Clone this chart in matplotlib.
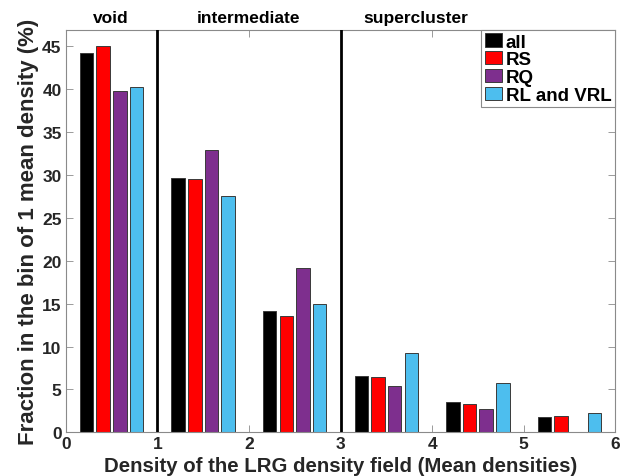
import numpy as np
import matplotlib
matplotlib.use('Agg')
import matplotlib.pyplot as plt
import matplotlib.transforms as mtransforms

plt.rcParams['font.family'] = ['Liberation Sans', 'DejaVu Sans']
plt.rcParams['font.weight'] = 'bold'

# Datos (fraccion en %)
bin_centers = [0.5, 1.5, 2.5, 3.5, 4.5, 5.5]
series_names = ['all', 'RS', 'RQ', 'RL and VRL']
frac_all = [44.2, 29.7, 14.1, 6.6, 3.5, 1.75]
frac_rs = [45.05, 29.5, 13.6, 6.5, 3.35, 1.85]
frac_rq = [39.75, 32.9, 19.1, 5.45, 2.7, 0.0]
frac_rl = [40.2, 27.6, 14.9, 9.2, 5.7, 2.25]
colors = ['#000000', '#FF0000', '#7E2F8E', '#4DBEEE']
region_names = ['void', 'intermediate', 'supercluster']
region_x = [0.49, 2.0, 3.82]
boundaries = [1, 3]

fig = plt.figure(figsize=(6.3, 4.77), dpi=100)
ax = fig.add_axes([0.1043, 0.0916, 0.8724, 0.844])

series = [frac_all, frac_rs, frac_rq, frac_rl]
offsets = [-0.273, -0.091, 0.091, 0.273]
for vals, off, col, name in zip(series, offsets, colors, series_names):
    ax.bar(np.array(bin_centers) + off, vals, width=0.148, color=col,
           edgecolor='#3a3a3a', linewidth=0.7, label=name, zorder=2)

for b in boundaries:
    ax.axvline(b, color='black', linewidth=2, zorder=3)

ax.set_xlim(0, 6)
ax.set_ylim(0, 46.93)
ax.set_xticks(range(0, 7))
ax.set_yticks(range(0, 50, 5))
ax.tick_params(direction='in', length=5, width=0.6, top=True, right=True,
               labelsize=12.5, colors='#8a8a8a', labelcolor='#262626', pad=3)
for sp in ax.spines.values():
    sp.set_color('#8a8a8a')
    sp.set_linewidth(0.8)
for lab in ax.get_xticklabels() + ax.get_yticklabels():
    lab.set_fontweight('bold')

ax.set_xlabel('Density of the LRG density field (Mean densities)',
              fontsize=14.7, fontweight='bold', color='#262626', labelpad=3)
ax.set_ylabel('Fraction in the bin of 1 mean density (%)',
              fontsize=16, fontweight='bold', color='#262626', labelpad=2)

trans = mtransforms.blended_transform_factory(ax.transData, ax.transAxes)
for name, xpos in zip(region_names, region_x):
    ax.text(xpos, 1.012, name, transform=trans, ha='center', va='bottom',
            fontsize=12.5, fontweight='bold', color='black')

leg = ax.legend(loc='upper right', borderaxespad=0, fontsize=13.5,
                handlelength=0.9, handleheight=0.7, handletextpad=0.2,
                labelspacing=0.03, borderpad=0.2, fancybox=False,
                framealpha=1)
leg.get_frame().set_edgecolor('#8a8a8a')
leg.get_frame().set_linewidth(0.8)
for t in leg.get_texts():
    t.set_fontweight('bold')

fig.savefig('out.png', dpi=100)
